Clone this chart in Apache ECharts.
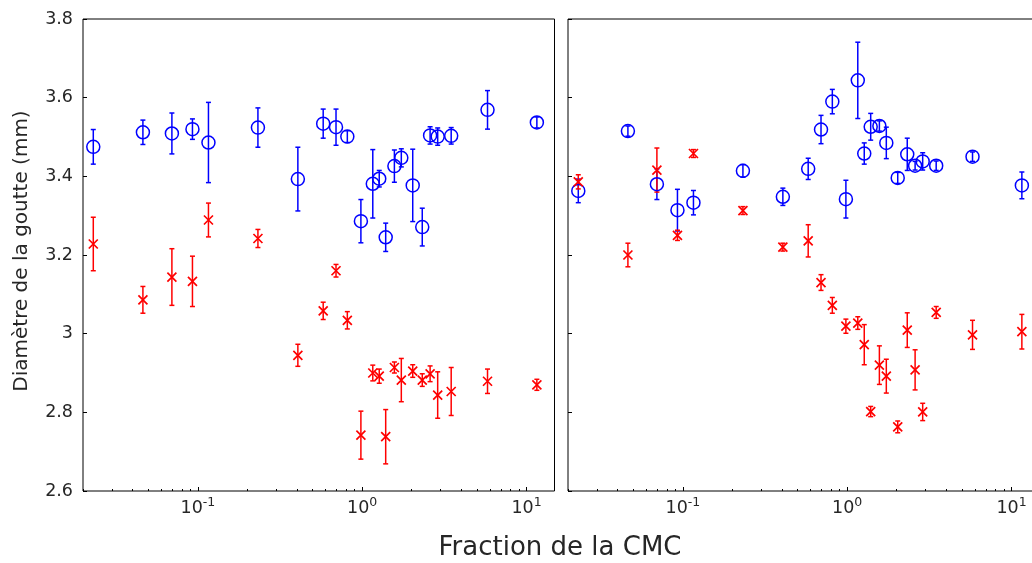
<!DOCTYPE html>
<html>
<head>
<meta charset="utf-8">
<script src="https://cdn.jsdelivr.net/npm/echarts@6/dist/echarts.min.js"></script>
<style>
  html, body { margin: 0; padding: 0; background: #fff; }
  #chart { width: 1032px; height: 563px; }
</style>
</head>
<body>
<div id="chart"></div>
<script>
// fraction de la CMC (same abscissas in both panels)
const cmcFraction = [0.0231, 0.0463, 0.0695, 0.0927, 0.116, 0.232, 0.406, 0.579, 0.693, 0.812, 0.982,
  1.16, 1.27, 1.39, 1.57, 1.73, 2.03, 2.32, 2.59, 2.88, 3.48, 5.79, 11.56];

// left panel
const leftBlue = [3.475, 3.512, 3.509, 3.520, 3.486, 3.524, 3.393, 3.534, 3.525, 3.501, 3.286,
  3.381, 3.394, 3.245, 3.426, 3.447, 3.377, 3.271, 3.504, 3.501, 3.503, 3.569, 3.537];
const leftBlueErr = [0.044, 0.031, 0.052, 0.026, 0.102, 0.050, 0.081, 0.037, 0.046, 0.015, 0.055,
  0.087, 0.021, 0.036, 0.041, 0.023, 0.092, 0.048, 0.022, 0.022, 0.021, 0.049, 0.014];
const leftRed = [3.228, 3.086, 3.144, 3.133, 3.289, 3.242, 2.945, 3.058, 3.160, 3.034, 2.742,
  2.900, 2.892, 2.738, 2.914, 2.882, 2.905, 2.882, 2.898, 2.844, 2.853, 2.879, 2.870];
const leftRedErr = [0.068, 0.034, 0.072, 0.064, 0.043, 0.023, 0.028, 0.022, 0.016, 0.022, 0.061,
  0.020, 0.018, 0.069, 0.014, 0.055, 0.016, 0.016, 0.020, 0.059, 0.061, 0.031, 0.014];

// right panel
const rightBlue = [3.363, 3.515, 3.380, 3.314, 3.333, 3.414, 3.348, 3.419, 3.519, 3.590, 3.342,
  3.644, 3.458, 3.526, 3.528, 3.485, 3.396, 3.456, 3.427, 3.438, 3.427, 3.450, 3.377];
const rightBlueErr = [0.030, 0.013, 0.039, 0.053, 0.031, 0.016, 0.022, 0.027, 0.036, 0.031, 0.048,
  0.097, 0.027, 0.034, 0.013, 0.040, 0.014, 0.041, 0.011, 0.022, 0.012, 0.012, 0.034];
const rightRed = [3.386, 3.200, 3.416, 3.250, 3.458, 3.313, 3.220, 3.236, 3.130, 3.072, 3.019,
  3.027, 2.972, 2.802, 2.920, 2.892, 2.763, 3.009, 2.908, 2.801, 3.054, 2.997, 3.005];
const rightRedErr = [0.018, 0.030, 0.056, 0.013, 0.010, 0.010, 0.010, 0.041, 0.020, 0.020, 0.018,
  0.016, 0.051, 0.013, 0.049, 0.043, 0.015, 0.044, 0.051, 0.022, 0.015, 0.037, 0.044];

// axes
const xMajorTicks = [0.1, 1, 10];
const xMinorTicks = [0.02, 0.03, 0.04, 0.05, 0.06, 0.07, 0.08, 0.09,
  0.2, 0.3, 0.4, 0.5, 0.6, 0.7, 0.8, 0.9, 2, 3, 4, 5, 6, 7, 8, 9];
const xRange = [0.02, 14.8];
const yRange = [2.6, 3.8];
const yStep = 0.2;

const FONT = 'DejaVu Sans';
const TXT = '#262626';

var chart = echarts.init(document.getElementById('chart'));

function renderErr(params, api) {
  var x = api.value(0);
  var a = api.coord([x, api.value(1)]);
  var b = api.coord([x, api.value(2)]);
  var w = 2.5;
  var style = { stroke: api.visual('color'), lineWidth: 1.5 };
  return {
    type: 'group',
    children: [
      { type: 'line', shape: { x1: a[0], y1: a[1], x2: b[0], y2: b[1] }, style: style },
      { type: 'line', shape: { x1: a[0] - w, y1: a[1], x2: a[0] + w, y2: a[1] }, style: style },
      { type: 'line', shape: { x1: b[0] - w, y1: b[1], x2: b[0] + w, y2: b[1] }, style: style }
    ]
  };
}

function errSeries(xi, yi, vals, errs, color) {
  return {
    type: 'custom',
    xAxisIndex: xi, yAxisIndex: yi,
    itemStyle: { color: color },
    renderItem: renderErr,
    encode: { x: 0, y: [1, 2] },
    data: cmcFraction.map((x, i) => [x, vals[i] - errs[i], vals[i] + errs[i]]),
    z: 2
  };
}

function markSeries(xi, yi, vals, kind) {
  var s = {
    type: 'scatter',
    xAxisIndex: xi, yAxisIndex: yi,
    data: cmcFraction.map((x, i) => [x, vals[i]]),
    z: 3
  };
  if (kind === 'o') {
    s.symbol = 'circle';
    s.symbolSize = 13;
    s.itemStyle = { color: 'none', borderColor: '#0000ff', borderWidth: 1.5, opacity: 1 };
  } else {
    s.symbol = 'path://M0,0L10,10M10,0L0,10';
    s.symbolSize = 9;
    s.itemStyle = { color: 'none', borderColor: '#ff0000', borderWidth: 1.7, opacity: 1 };
  }
  return s;
}

function xAxes(gi) {
  return [
    {
      type: 'log', gridIndex: gi, position: 'bottom', min: xRange[0], max: xRange[1],
      axisLine: { show: false },
      splitLine: { show: false },
      axisTick: { show: true, inside: true, length: 4, customValues: xMajorTicks,
        lineStyle: { color: '#000', width: 1 } },
      axisLabel: {
        customValues: xMajorTicks, margin: 5,
        formatter: v => '{b|10}{s|' + Math.round(Math.log10(v)) + '}',
        rich: {
          b: { fontFamily: FONT, fontSize: 17.5, color: TXT, lineHeight: 21, verticalAlign: 'bottom' },
          s: { fontFamily: FONT, fontSize: 12.5, color: TXT, lineHeight: 21, verticalAlign: 'top' }
        }
      }
    },
    {
      type: 'log', gridIndex: gi, position: 'bottom', min: xRange[0], max: xRange[1],
      axisLine: { show: false },
      splitLine: { show: false },
      axisLabel: { show: false },
      axisTick: { show: true, inside: true, length: 2, customValues: xMinorTicks,
        lineStyle: { color: '#000', width: 1 } }
    }
  ];
}

function yAxis(gi, labels) {
  return {
    type: 'value', gridIndex: gi, position: 'left', min: yRange[0], max: yRange[1], interval: yStep,
    axisLine: { show: false },
    splitLine: { show: false },
    axisTick: { show: true, inside: true, length: 4, lineStyle: { color: '#000', width: 1 } },
    axisLabel: { show: labels, fontFamily: FONT, fontSize: 17.5, color: TXT, margin: 10 }
  };
}

var option = {
  animation: false,
  backgroundColor: '#fff',
  grid: [
    { left: 83, top: 19, width: 471.5, height: 472, show: true, borderColor: '#000', borderWidth: 1,
      backgroundColor: '#fff', containLabel: false, outerBoundsMode: 'none' },
    { left: 568, top: 19, width: 471.5, height: 472, show: true, borderColor: '#000', borderWidth: 1,
      backgroundColor: '#fff', containLabel: false, outerBoundsMode: 'none' }
  ],
  xAxis: xAxes(0).concat(xAxes(1)),
  yAxis: [yAxis(0, true), yAxis(1, false)],
  series: [
    errSeries(0, 0, leftBlue, leftBlueErr, '#0000ff'),
    markSeries(0, 0, leftBlue, 'o'),
    errSeries(0, 0, leftRed, leftRedErr, '#ff0000'),
    markSeries(0, 0, leftRed, 'x'),
    errSeries(2, 1, rightBlue, rightBlueErr, '#0000ff'),
    markSeries(2, 1, rightBlue, 'o'),
    errSeries(2, 1, rightRed, rightRedErr, '#ff0000'),
    markSeries(2, 1, rightRed, 'x')
  ],
  graphic: [
    {
      type: 'text', x: 22, y: 251, rotation: Math.PI / 2,
      style: { text: 'Diamètre de la goutte (mm)', fontFamily: FONT, fontSize: 20, fill: TXT,
        textAlign: 'center', textVerticalAlign: 'middle' }
    },
    {
      type: 'text', x: 560, y: 548,
      style: { text: 'Fraction de la CMC', fontFamily: FONT, fontSize: 26, fill: TXT,
        textAlign: 'center', textVerticalAlign: 'middle' }
    }
  ]
};

chart.setOption(option);
</script>
</body>
</html>
